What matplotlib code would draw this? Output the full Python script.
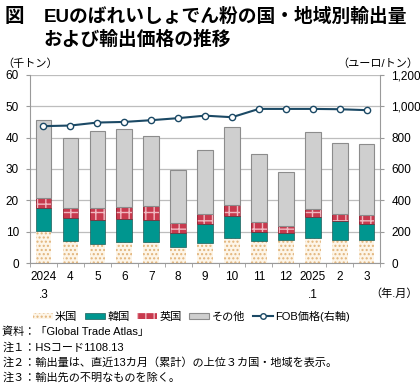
import matplotlib.pyplot as plt
import numpy as np
from matplotlib.patches import Patch
from matplotlib.lines import Line2D

plt.rcParams['font.family'] = ['Liberation Sans', 'Noto Sans CJK JP', 'DejaVu Sans']

months = ['2024\n.3', '4', '5', '6', '7', '8', '9', '10', '11', '12', '2025\n.1', '2', '3']
# 千トン
usa = [10.3, 7.1, 6.2, 6.6, 6.8, 5.0, 6.3, 8.0, 7.1, 7.5, 7.9, 7.5, 7.5]
korea = [7.2, 7.2, 7.4, 7.3, 6.9, 4.5, 6.1, 7.1, 2.9, 2.2, 6.8, 5.9, 5.0]
uk = [3.2, 3.1, 3.8, 3.9, 4.6, 3.3, 3.3, 3.3, 3.1, 2.0, 2.5, 2.2, 2.7]
other = [25.0, 22.6, 24.6, 25.0, 22.3, 17.0, 20.3, 25.1, 21.7, 17.4, 24.6, 22.7, 22.8]
# ユーロ/トン
fob = [873, 877, 896, 900, 911, 924, 940, 930, 983, 983, 983, 981, 975]

x = np.arange(len(months))
w = 0.58

fig = plt.figure(figsize=(4.2, 3.84), dpi=100)
ax = fig.add_axes([0.0714, 0.315, 0.8336, 0.49])

ax.grid(axis='y', color='#bdbdbd', linewidth=0.9, zorder=0)
ax.set_axisbelow(True)

b0 = np.zeros(len(x))
ax.bar(x, usa, w, bottom=b0, facecolor='#fdf5e8', edgecolor='#e2b47a',
       hatch='....', linewidth=0, zorder=2)
b1 = b0 + np.array(usa)
ax.bar(x, korea, w, bottom=b1, color='#00968f', edgecolor='#1d5e5a',
       linewidth=0.5, zorder=2)
b2 = b1 + np.array(korea)
ax.bar(x, uk, w, bottom=b2, facecolor='#c83a4e', edgecolor='#f0b8c0',
       hatch='++', linewidth=0, zorder=2)
ax.bar(x, uk, w, bottom=b2, facecolor='none', edgecolor='#8a2030',
       linewidth=0.5, zorder=2)
b3 = b2 + np.array(uk)
ax.bar(x, other, w, bottom=b3, color='#cfcfcf', edgecolor='#8c8c8c',
       linewidth=0.8, zorder=2)

ax.set_xlim(-0.5, len(x) - 0.5)
ax.set_ylim(0, 60)
ax.set_yticks(range(0, 61, 10))
ax.set_xticks(x)
ax.set_xticklabels(months, fontsize=8.5, linespacing=1.6, va='top')
ax.set_xticks(np.arange(-0.5, len(x), 1), minor=True)
ax.tick_params(axis='x', which='major', length=0, pad=6)
ax.tick_params(axis='x', which='minor', length=3, color='#9a9a9a')
ax.tick_params(axis='y', labelsize=8.5, length=3, color='#9a9a9a', pad=5)
for s in ['left', 'right', 'bottom']:
    ax.spines[s].set_color('#9a9a9a')
ax.spines['top'].set_visible(False)

ax2 = ax.twinx()
ax2.plot(x, fob, color='#1b4965', linewidth=1.5, marker='o', markersize=4.5,
         markerfacecolor='white', markeredgecolor='#1b4965', markeredgewidth=1.0,
         zorder=5)
ax2.set_ylim(0, 1200)
ax2.set_yticks(range(0, 1201, 200))
ax2.set_yticklabels([f'{v:,}' for v in range(0, 1201, 200)])
ax2.tick_params(axis='y', labelsize=8.5, length=3, color='#9a9a9a', pad=5)
for s in ['left', 'right', 'bottom', 'top']:
    ax2.spines[s].set_visible(False)

fig.text(0.012, 0.955, '図', fontsize=14, fontweight='bold', va='center')
fig.text(0.103, 0.955, 'EUのばれいしょでん粉の国・地域別輸出量', fontsize=13.5,
         fontweight='bold', va='center')
fig.text(0.103, 0.895, 'および輸出価格の推移', fontsize=13.5,
         fontweight='bold', va='center')
fig.text(0.005, 0.835, '（千トン）', fontsize=8, va='center')
fig.text(0.995, 0.835, '（ユーロ/トン）', fontsize=8, va='center', ha='right')
fig.text(0.995, 0.235, '（年.月）', fontsize=8, va='center', ha='right')

handles = [
    Patch(facecolor='#fdf5e8', edgecolor='#e2b47a', hatch='....', linewidth=0, label='米国'),
    Patch(facecolor='#00968f', edgecolor='#1d5e5a', linewidth=0.5, label='韓国'),
    Patch(facecolor='#c83a4e', edgecolor='#f0b8c0', hatch='++', linewidth=0, label='英国'),
    Patch(facecolor='#cfcfcf', edgecolor='#8c8c8c', linewidth=0.8, label='その他'),
    Line2D([0], [0], color='#1b4965', linewidth=1.5, marker='o', markersize=4,
           markerfacecolor='white', label='FOB価格(右軸)'),
]
fig.legend(handles=handles, loc='center', bbox_to_anchor=(0.455, 0.177), ncol=5,
           frameon=False, fontsize=8, handlelength=1.8, handleheight=0.45,
           handletextpad=0.2, columnspacing=0.7, borderpad=0.2)

notes = ['資料：「Global Trade Atlas」',
         '注１：HSコード1108.13',
         '注２：輸出量は、直近13カ月（累計）の上位３カ国・地域を表示。',
         '注３：輸出先の不明なものを除く。']
for i, t in enumerate(notes):
    fig.text(0.005, 0.135 - i * 0.039, t, fontsize=8, va='center')

fig.savefig('out.png', dpi=100)
